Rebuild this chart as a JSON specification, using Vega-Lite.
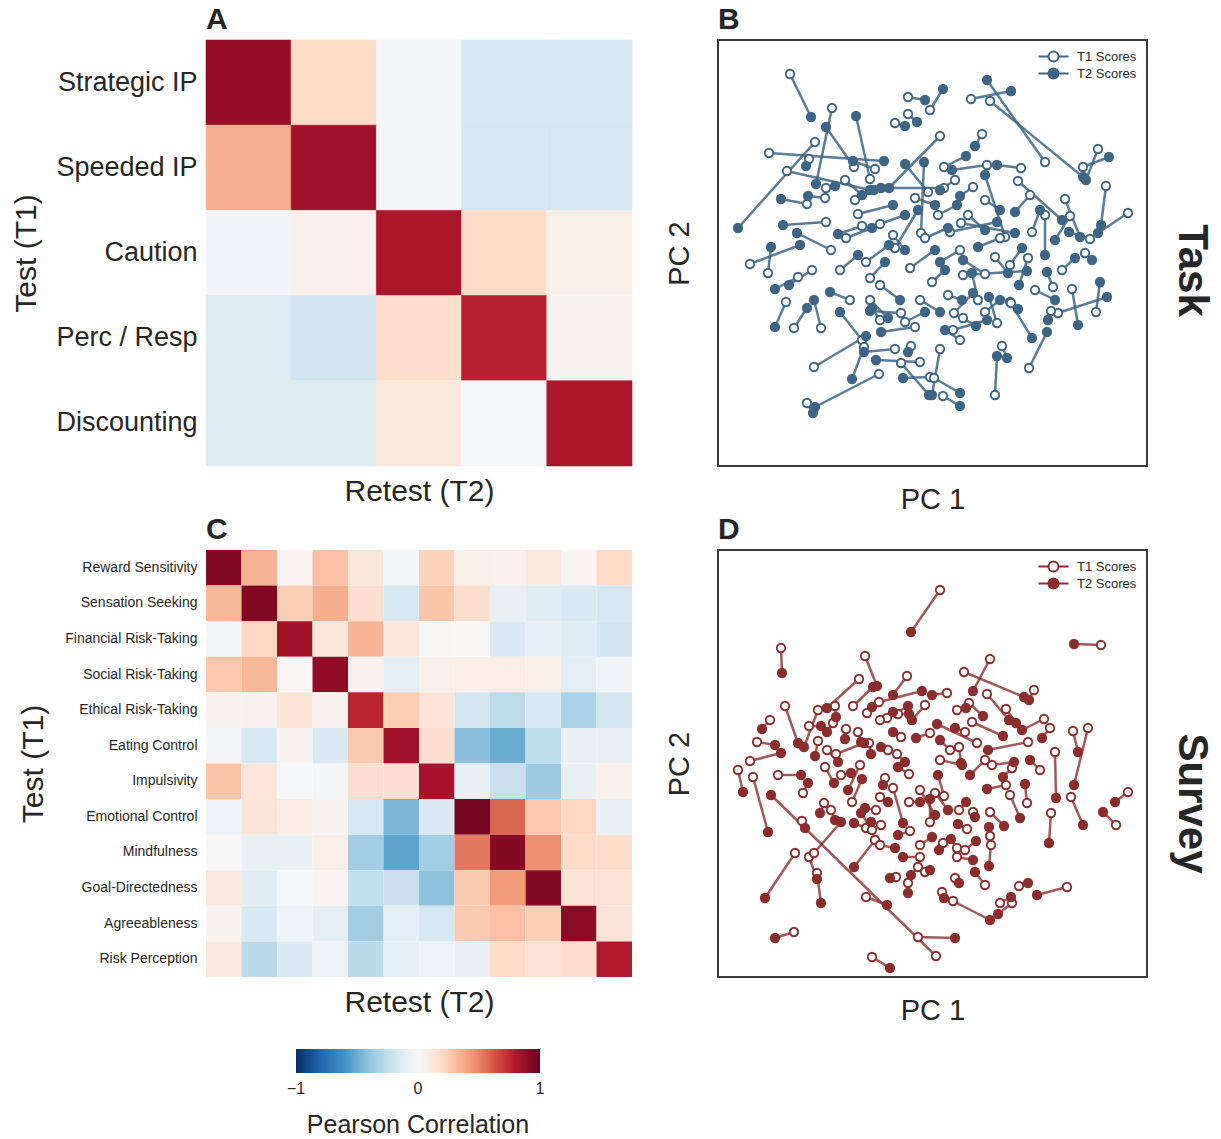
{
  "$schema": "https://vega.github.io/schema/vega-lite/v6.json",
  "autosize": {"type": "pad"},
  "padding": {"left": 11, "top": 4, "right": 5, "bottom": 5},
  "background": "white",
  "config": {
    "font": "Liberation Sans",
    "view": {"stroke": null},
    "axis": {"domain": false, "ticks": false, "grid": false, "titleFontWeight": "normal", "titleColor": "#262626", "labelColor": "#262626"},
    "title": {"anchor": "start", "frame": "group", "fontSize": 30, "fontWeight": "bold", "offset": 5, "color": "#262626"},
    "legend": {"labelColor": "#262626", "titleColor": "#262626"}
  },
  "datasets": {
    "taskCorr": [
      {"test": "Strategic IP", "Strategic IP": 0.88, "Speeded IP": 0.2, "Caution": -0.02, "Perc / Resp": -0.17, "Discounting": -0.17},
      {"test": "Speeded IP", "Strategic IP": 0.36, "Speeded IP": 0.85, "Caution": -0.02, "Perc / Resp": -0.18, "Discounting": -0.18},
      {"test": "Caution", "Strategic IP": -0.03, "Speeded IP": 0.05, "Caution": 0.82, "Perc / Resp": 0.19, "Discounting": 0.06},
      {"test": "Perc / Resp", "Strategic IP": -0.13, "Speeded IP": -0.2, "Caution": 0.18, "Perc / Resp": 0.78, "Discounting": 0.03},
      {"test": "Discounting", "Strategic IP": -0.13, "Speeded IP": -0.13, "Caution": 0.11, "Perc / Resp": -0.01, "Discounting": 0.82}
    ],
    "surveyCorr": [
      {"test": "Reward Sensitivity", "Reward Sensitivity": 0.92, "Sensation Seeking": 0.35, "Financial Risk-Taking": 0.02, "Social Risk-Taking": 0.3, "Ethical Risk-Taking": 0.12, "Eating Control": -0.02, "Impulsivity": 0.23, "Emotional Control": 0.06, "Mindfulness": 0.05, "Goal-Directedness": 0.11, "Agreeableness": 0.02, "Risk Perception": 0.2},
      {"test": "Sensation Seeking", "Reward Sensitivity": 0.33, "Sensation Seeking": 0.93, "Financial Risk-Taking": 0.25, "Social Risk-Taking": 0.37, "Ethical Risk-Taking": 0.17, "Eating Control": -0.17, "Impulsivity": 0.28, "Emotional Control": 0.18, "Mindfulness": -0.08, "Goal-Directedness": -0.13, "Agreeableness": -0.16, "Risk Perception": -0.18},
      {"test": "Financial Risk-Taking", "Reward Sensitivity": -0.02, "Sensation Seeking": 0.21, "Financial Risk-Taking": 0.85, "Social Risk-Taking": 0.13, "Ethical Risk-Taking": 0.34, "Eating Control": 0.13, "Impulsivity": 0.01, "Emotional Control": 0.01, "Mindfulness": -0.15, "Goal-Directedness": -0.1, "Agreeableness": -0.12, "Risk Perception": -0.2},
      {"test": "Social Risk-Taking", "Reward Sensitivity": 0.27, "Sensation Seeking": 0.33, "Financial Risk-Taking": 0.01, "Social Risk-Taking": 0.89, "Ethical Risk-Taking": 0.04, "Eating Control": -0.1, "Impulsivity": 0.05, "Emotional Control": 0.07, "Mindfulness": 0.07, "Goal-Directedness": 0.06, "Agreeableness": -0.1, "Risk Perception": -0.04},
      {"test": "Ethical Risk-Taking", "Reward Sensitivity": 0.04, "Sensation Seeking": 0.04, "Financial Risk-Taking": 0.14, "Social Risk-Taking": 0.04, "Ethical Risk-Taking": 0.76, "Eating Control": 0.25, "Impulsivity": 0.14, "Emotional Control": -0.19, "Mindfulness": -0.26, "Goal-Directedness": -0.16, "Agreeableness": -0.32, "Risk Perception": -0.19},
      {"test": "Eating Control", "Reward Sensitivity": -0.02, "Sensation Seeking": -0.17, "Financial Risk-Taking": 0.03, "Social Risk-Taking": -0.15, "Ethical Risk-Taking": 0.26, "Eating Control": 0.85, "Impulsivity": 0.18, "Emotional Control": -0.42, "Mindfulness": -0.5, "Goal-Directedness": -0.25, "Agreeableness": -0.08, "Risk Perception": -0.08},
      {"test": "Impulsivity", "Reward Sensitivity": 0.28, "Sensation Seeking": 0.13, "Financial Risk-Taking": -0.01, "Social Risk-Taking": -0.02, "Ethical Risk-Taking": 0.17, "Eating Control": 0.17, "Impulsivity": 0.83, "Emotional Control": -0.08, "Mindfulness": -0.23, "Goal-Directedness": -0.37, "Agreeableness": -0.08, "Risk Perception": 0.05},
      {"test": "Emotional Control", "Reward Sensitivity": -0.06, "Sensation Seeking": 0.14, "Financial Risk-Taking": 0.08, "Social Risk-Taking": 0.03, "Ethical Risk-Taking": -0.17, "Eating Control": -0.46, "Impulsivity": -0.15, "Emotional Control": 0.96, "Mindfulness": 0.58, "Goal-Directedness": 0.27, "Agreeableness": 0.21, "Risk Perception": -0.08},
      {"test": "Mindfulness", "Reward Sensitivity": 0.0, "Sensation Seeking": -0.08, "Financial Risk-Taking": -0.08, "Social Risk-Taking": 0.06, "Ethical Risk-Taking": -0.35, "Eating Control": -0.53, "Impulsivity": -0.35, "Emotional Control": 0.53, "Mindfulness": 0.92, "Goal-Directedness": 0.46, "Agreeableness": 0.19, "Risk Perception": 0.19},
      {"test": "Goal-Directedness", "Reward Sensitivity": 0.1, "Sensation Seeking": -0.12, "Financial Risk-Taking": -0.01, "Social Risk-Taking": 0.02, "Ethical Risk-Taking": -0.24, "Eating Control": -0.23, "Impulsivity": -0.41, "Emotional Control": 0.26, "Mindfulness": 0.43, "Goal-Directedness": 0.92, "Agreeableness": 0.16, "Risk Perception": 0.16},
      {"test": "Agreeableness", "Reward Sensitivity": 0.03, "Sensation Seeking": -0.16, "Financial Risk-Taking": -0.04, "Social Risk-Taking": -0.1, "Ethical Risk-Taking": -0.35, "Eating Control": -0.1, "Impulsivity": -0.18, "Emotional Control": 0.26, "Mindfulness": 0.3, "Goal-Directedness": 0.25, "Agreeableness": 0.91, "Risk Perception": 0.14},
      {"test": "Risk Perception", "Reward Sensitivity": 0.1, "Sensation Seeking": -0.27, "Financial Risk-Taking": -0.15, "Social Risk-Taking": -0.06, "Ethical Risk-Taking": -0.27, "Eating Control": -0.1, "Impulsivity": -0.06, "Emotional Control": -0.08, "Mindfulness": 0.2, "Goal-Directedness": 0.16, "Agreeableness": 0.18, "Risk Perception": 0.8}
    ],
    "taskPCA": [
      {"x1": -1.42, "y1": 1.79, "x2": -1.21, "y2": 1.36},
      {"x1": -1.0, "y1": 1.45, "x2": -1.16, "y2": 0.69},
      {"x1": -1.63, "y1": 1.0, "x2": -0.48, "y2": 0.92},
      {"x1": -0.24, "y1": 1.56, "x2": -0.07, "y2": 1.53},
      {"x1": 0.39, "y1": 1.54, "x2": 0.79, "y2": 1.62},
      {"x1": -0.02, "y1": 1.43, "x2": 0.11, "y2": 1.64},
      {"x1": 1.13, "y1": 0.91, "x2": 0.55, "y2": 1.73},
      {"x1": 0.58, "y1": 1.52, "x2": 1.51, "y2": 0.76},
      {"x1": 1.66, "y1": 1.04, "x2": 1.54, "y2": 0.73},
      {"x1": 1.51, "y1": 0.86, "x2": 1.77, "y2": 0.96},
      {"x1": 1.74, "y1": 0.67, "x2": 1.69, "y2": 0.28},
      {"x1": 1.96, "y1": 0.4, "x2": 1.66, "y2": 0.2},
      {"x1": 1.33, "y1": 0.54, "x2": 1.48, "y2": 0.16},
      {"x1": 1.13, "y1": 0.38, "x2": 1.13, "y2": -0.02},
      {"x1": -1.17, "y1": 1.11, "x2": -1.94, "y2": 0.25},
      {"x1": -1.45, "y1": 0.82, "x2": -0.62, "y2": 0.63},
      {"x1": -0.24, "y1": 1.39, "x2": -0.15, "y2": 1.31},
      {"x1": -0.37, "y1": 1.3, "x2": -0.27, "y2": 1.27},
      {"x1": -0.78, "y1": 0.86, "x2": -1.06, "y2": 1.26},
      {"x1": -0.57, "y1": 0.84, "x2": -0.79, "y2": 0.92},
      {"x1": -0.62, "y1": 0.74, "x2": -0.76, "y2": 1.37},
      {"x1": -1.23, "y1": 0.94, "x2": -1.26, "y2": 0.87},
      {"x1": -1.25, "y1": 0.49, "x2": -1.51, "y2": 0.54},
      {"x1": -1.06, "y1": 0.65, "x2": -0.97, "y2": 0.67},
      {"x1": -1.07, "y1": 0.55, "x2": -1.24, "y2": 0.57},
      {"x1": -0.77, "y1": 0.53, "x2": -0.58, "y2": 0.63},
      {"x1": -1.06, "y1": 0.31, "x2": -1.49, "y2": 0.28},
      {"x1": -1.01, "y1": 0.03, "x2": -1.35, "y2": 0.2},
      {"x1": -0.04, "y1": 0.61, "x2": -0.27, "y2": 0.89},
      {"x1": -0.11, "y1": 0.2, "x2": -0.08, "y2": 0.91},
      {"x1": 0.08, "y1": 1.17, "x2": -0.43, "y2": 0.65},
      {"x1": 0.5, "y1": 1.19, "x2": 0.43, "y2": 1.07},
      {"x1": 0.12, "y1": 0.86, "x2": 0.34, "y2": 0.97},
      {"x1": 0.55, "y1": 0.88, "x2": 0.2, "y2": 0.83},
      {"x1": 0.89, "y1": 0.85, "x2": 0.65, "y2": 0.88},
      {"x1": 0.86, "y1": 0.72, "x2": 1.3, "y2": 0.33},
      {"x1": 0.41, "y1": 0.66, "x2": 0.28, "y2": 0.57},
      {"x1": 0.12, "y1": 0.65, "x2": -0.51, "y2": 0.65},
      {"x1": 0.73, "y1": 0.16, "x2": 0.53, "y2": 0.78},
      {"x1": 1.58, "y1": 0.14, "x2": 1.37, "y2": 0.21},
      {"x1": 0.29, "y1": 0.3, "x2": 0.83, "y2": 0.2},
      {"x1": 0.18, "y1": 0.21, "x2": 0.65, "y2": 0.31},
      {"x1": -0.7, "y1": 0.27, "x2": -0.94, "y2": 0.19},
      {"x1": -1.82, "y1": -0.11, "x2": -1.32, "y2": 0.08},
      {"x1": -1.64, "y1": -0.2, "x2": -1.61, "y2": 0.06},
      {"x1": -1.46, "y1": -0.49, "x2": -1.57, "y2": -0.74},
      {"x1": -1.34, "y1": -0.24, "x2": -1.57, "y2": -0.36},
      {"x1": -1.2, "y1": -0.17, "x2": -1.43, "y2": -0.32},
      {"x1": -1.11, "y1": -0.75, "x2": -1.18, "y2": -0.47},
      {"x1": -1.38, "y1": -0.75, "x2": -1.25, "y2": -0.55},
      {"x1": -0.7, "y1": -0.87, "x2": -0.92, "y2": -0.59},
      {"x1": -1.18, "y1": -1.14, "x2": -0.66, "y2": -0.83},
      {"x1": -0.53, "y1": -1.21, "x2": -1.17, "y2": -1.54},
      {"x1": -1.25, "y1": -1.5, "x2": -1.19, "y2": -1.6},
      {"x1": -0.68, "y1": -0.94, "x2": -0.8, "y2": -1.26},
      {"x1": -0.31, "y1": -0.6, "x2": -0.62, "y2": -0.58},
      {"x1": -0.17, "y1": -0.74, "x2": -0.51, "y2": -0.79},
      {"x1": -0.12, "y1": -1.09, "x2": -0.56, "y2": -1.07},
      {"x1": -0.02, "y1": -1.24, "x2": -0.29, "y2": -1.25},
      {"x1": -0.31, "y1": -1.1, "x2": -0.03, "y2": -1.42},
      {"x1": -0.21, "y1": -0.93, "x2": -0.24, "y2": -0.99},
      {"x1": -0.37, "y1": -0.96, "x2": -0.68, "y2": -0.99},
      {"x1": 1.64, "y1": -0.59, "x2": 1.68, "y2": -0.29},
      {"x1": 1.26, "y1": -0.6, "x2": 1.75, "y2": -0.44},
      {"x1": 1.4, "y1": -0.36, "x2": 1.46, "y2": -0.72},
      {"x1": 1.53, "y1": 0.0, "x2": 1.6, "y2": -0.07},
      {"x1": 0.97, "y1": -1.15, "x2": 1.15, "y2": -0.79},
      {"x1": 0.63, "y1": -1.42, "x2": 0.65, "y2": -1.03},
      {"x1": 0.7, "y1": -0.93, "x2": 0.75, "y2": -1.05},
      {"x1": 0.78, "y1": -0.49, "x2": 1.0, "y2": -0.85},
      {"x1": 0.11, "y1": -1.43, "x2": 0.28, "y2": -1.53},
      {"x1": 0.02, "y1": -1.25, "x2": 0.28, "y2": -1.4},
      {"x1": 0.08, "y1": -0.96, "x2": 0.0, "y2": -1.42},
      {"x1": 1.21, "y1": -0.34, "x2": 1.15, "y2": -0.19},
      {"x1": 1.19, "y1": -0.58, "x2": 1.16, "y2": -0.67},
      {"x1": 0.79, "y1": -0.5, "x2": 0.86, "y2": -0.56},
      {"x1": 0.96, "y1": -0.05, "x2": 0.87, "y2": -0.32},
      {"x1": 0.63, "y1": -0.04, "x2": 0.76, "y2": -0.2},
      {"x1": 0.31, "y1": -0.22, "x2": 0.95, "y2": -0.18},
      {"x1": 0.53, "y1": -0.21, "x2": 0.31, "y2": -0.07},
      {"x1": 0.46, "y1": -0.47, "x2": 0.4, "y2": -0.2},
      {"x1": 0.22, "y1": -0.6, "x2": 0.41, "y2": -0.4},
      {"x1": 0.65, "y1": -0.7, "x2": 0.57, "y2": -0.44},
      {"x1": 0.31, "y1": -0.65, "x2": 0.44, "y2": -0.73},
      {"x1": 0.21, "y1": -0.77, "x2": 0.55, "y2": -0.67},
      {"x1": -0.74, "y1": 0.39, "x2": -0.39, "y2": 0.48},
      {"x1": -0.52, "y1": 0.29, "x2": -0.27, "y2": 0.38},
      {"x1": -0.86, "y1": 0.15, "x2": -0.6, "y2": 0.25},
      {"x1": -0.37, "y1": 0.05, "x2": -0.14, "y2": 0.43},
      {"x1": -0.66, "y1": -0.09, "x2": -0.43, "y2": 0.08},
      {"x1": -0.92, "y1": -0.17, "x2": -0.74, "y2": -0.02},
      {"x1": -0.22, "y1": -0.15, "x2": 0.03, "y2": 0.03},
      {"x1": -0.52, "y1": -0.32, "x2": -0.32, "y2": -0.47},
      {"x1": 0.06, "y1": 0.38, "x2": 0.25, "y2": 0.48},
      {"x1": 0.0, "y1": -0.29, "x2": 0.13, "y2": -0.17},
      {"x1": 1.0, "y1": 0.21, "x2": 1.08, "y2": 0.43},
      {"x1": 1.38, "y1": 0.37, "x2": 1.23, "y2": 0.13},
      {"x1": 0.28, "y1": 0.03, "x2": 0.08, "y2": -0.09},
      {"x1": 0.53, "y1": 0.53, "x2": 0.68, "y2": 0.43},
      {"x1": 0.98, "y1": 0.58, "x2": 0.83, "y2": 0.41},
      {"x1": -0.62, "y1": -0.47, "x2": -0.44, "y2": -0.65},
      {"x1": 0.28, "y1": -0.87, "x2": 0.13, "y2": -0.77},
      {"x1": -0.82, "y1": -0.47, "x2": -1.02, "y2": -0.39},
      {"x1": -0.12, "y1": -0.47, "x2": 0.08, "y2": -0.59},
      {"x1": -0.39, "y1": 0.18, "x2": -0.27, "y2": 0.03},
      {"x1": -0.17, "y1": 0.55, "x2": 0.03, "y2": 0.48},
      {"x1": 0.36, "y1": 0.38, "x2": 0.53, "y2": 0.23},
      {"x1": 0.68, "y1": 0.15, "x2": 0.46, "y2": 0.06},
      {"x1": -0.07, "y1": 0.15, "x2": 0.16, "y2": 0.25},
      {"x1": -0.62, "y1": -0.25, "x2": -0.47, "y2": -0.09},
      {"x1": 0.16, "y1": -0.42, "x2": 0.3, "y2": -0.47},
      {"x1": -0.27, "y1": -0.69, "x2": -0.07, "y2": -0.59},
      {"x1": 0.53, "y1": -0.59, "x2": 0.68, "y2": -0.47},
      {"x1": 1.03, "y1": -0.37, "x2": 1.23, "y2": -0.47},
      {"x1": 1.3, "y1": -0.17, "x2": 1.43, "y2": -0.05},
      {"x1": -0.87, "y1": 0.73, "x2": -0.7, "y2": 0.58},
      {"x1": 0.23, "y1": 0.73, "x2": 0.08, "y2": 0.63},
      {"x1": 0.78, "y1": -0.12, "x2": 0.9, "y2": 0.05},
      {"x1": -0.52, "y1": -0.67, "x2": -0.6, "y2": -0.55}
    ],
    "surveyPCA": [
      {"x1": 0.08, "y1": 1.73, "x2": -0.21, "y2": 1.31},
      {"x1": 1.69, "y1": 1.18, "x2": 1.42, "y2": 1.19},
      {"x1": -1.51, "y1": 1.15, "x2": -1.5, "y2": 0.9},
      {"x1": -0.67, "y1": 1.07, "x2": -0.55, "y2": 0.77},
      {"x1": -0.73, "y1": 0.84, "x2": -1.05, "y2": 0.55},
      {"x1": -0.25, "y1": 0.87, "x2": -0.39, "y2": 0.68},
      {"x1": -1.47, "y1": 0.57, "x2": -1.34, "y2": 0.2},
      {"x1": -1.62, "y1": 0.43, "x2": -1.7, "y2": 0.34},
      {"x1": -1.75, "y1": 0.21, "x2": -1.57, "y2": 0.18},
      {"x1": -1.82, "y1": 0.02, "x2": -1.51, "y2": 0.1},
      {"x1": -1.23, "y1": 0.37, "x2": -1.11, "y2": 0.37},
      {"x1": -0.97, "y1": 0.57, "x2": -0.96, "y2": 0.46},
      {"x1": -1.14, "y1": 0.53, "x2": -1.28, "y2": 0.16},
      {"x1": -0.79, "y1": 0.57, "x2": -0.59, "y2": 0.76},
      {"x1": -0.99, "y1": 0.4, "x2": -1.05, "y2": 0.31},
      {"x1": -1.14, "y1": 0.22, "x2": -1.17, "y2": 0.07},
      {"x1": -0.86, "y1": 0.34, "x2": -0.87, "y2": 0.24},
      {"x1": -0.74, "y1": 0.31, "x2": -0.71, "y2": 0.21},
      {"x1": -0.65, "y1": 0.5, "x2": -0.6, "y2": 0.56},
      {"x1": -0.53, "y1": 0.61, "x2": -0.1, "y2": 0.72},
      {"x1": -0.34, "y1": 0.49, "x2": -0.23, "y2": 0.49},
      {"x1": -0.45, "y1": 0.45, "x2": -0.24, "y2": 0.57},
      {"x1": -0.31, "y1": 0.26, "x2": -0.39, "y2": 0.31},
      {"x1": -0.02, "y1": 0.3, "x2": -0.16, "y2": 0.25},
      {"x1": -1.05, "y1": 0.13, "x2": -0.94, "y2": 0.01},
      {"x1": -0.96, "y1": 0.09, "x2": -0.68, "y2": 0.2},
      {"x1": -0.44, "y1": 0.13, "x2": -0.51, "y2": 0.16},
      {"x1": -0.35, "y1": 0.09, "x2": -0.27, "y2": 0.01},
      {"x1": -0.63, "y1": 0.2, "x2": -0.61, "y2": 0.09},
      {"x1": 0.58, "y1": 1.04, "x2": 0.41, "y2": 0.72},
      {"x1": 0.32, "y1": 0.91, "x2": 0.92, "y2": 0.66},
      {"x1": 1.02, "y1": 0.73, "x2": 0.97, "y2": 0.63},
      {"x1": 0.55, "y1": 0.69, "x2": 0.77, "y2": 0.43},
      {"x1": 0.15, "y1": 0.7, "x2": 0.0, "y2": 0.68},
      {"x1": 0.25, "y1": 0.53, "x2": 0.34, "y2": 0.55},
      {"x1": 0.37, "y1": 0.6, "x2": 0.51, "y2": 0.47},
      {"x1": 0.33, "y1": 0.31, "x2": 0.23, "y2": 0.35},
      {"x1": 0.4, "y1": 0.41, "x2": 0.71, "y2": 0.27},
      {"x1": 0.74, "y1": 0.54, "x2": 0.84, "y2": 0.4},
      {"x1": 1.12, "y1": 0.44, "x2": 0.9, "y2": 0.33},
      {"x1": 1.18, "y1": 0.35, "x2": 1.1, "y2": 0.25},
      {"x1": 0.96, "y1": 0.21, "x2": 0.56, "y2": 0.13},
      {"x1": 1.41, "y1": 0.32, "x2": 1.46, "y2": 0.11},
      {"x1": 1.56, "y1": 0.35, "x2": 1.42, "y2": -0.22},
      {"x1": 1.23, "y1": 0.11, "x2": 1.24, "y2": -0.35},
      {"x1": 0.45, "y1": 0.2, "x2": 0.05, "y2": 0.39},
      {"x1": 0.27, "y1": 0.16, "x2": 0.29, "y2": 0.0},
      {"x1": -1.94, "y1": -0.07, "x2": -1.89, "y2": -0.29},
      {"x1": -1.79, "y1": -0.14, "x2": -1.64, "y2": -0.69},
      {"x1": 0.04, "y1": -1.93, "x2": -1.61, "y2": -0.32},
      {"x1": -0.14, "y1": -1.74, "x2": 0.23, "y2": -1.75},
      {"x1": -1.54, "y1": -0.12, "x2": -1.31, "y2": -0.12},
      {"x1": -1.07, "y1": -0.04, "x2": -0.98, "y2": -0.2},
      {"x1": -1.29, "y1": -0.3, "x2": -1.24, "y2": -0.2},
      {"x1": -1.08, "y1": -0.4, "x2": -1.12, "y2": -0.5},
      {"x1": -1.01, "y1": -0.47, "x2": -0.97, "y2": -0.57},
      {"x1": -1.3, "y1": -0.58, "x2": -1.27, "y2": -0.65},
      {"x1": -1.37, "y1": -0.9, "x2": -1.67, "y2": -1.35},
      {"x1": -1.15, "y1": -1.1, "x2": -1.11, "y2": -1.4},
      {"x1": -1.23, "y1": -0.94, "x2": -1.15, "y2": -1.16},
      {"x1": -1.18, "y1": -0.9, "x2": -0.91, "y2": -0.59},
      {"x1": -0.8, "y1": -0.39, "x2": -0.7, "y2": -0.16},
      {"x1": -0.91, "y1": -0.12, "x2": -0.81, "y2": -0.1},
      {"x1": -0.66, "y1": -0.65, "x2": -0.78, "y2": -0.6},
      {"x1": -0.56, "y1": -0.47, "x2": -0.67, "y2": -0.45},
      {"x1": -0.57, "y1": -0.77, "x2": -0.78, "y2": -1.04},
      {"x1": -0.51, "y1": -0.62, "x2": -0.61, "y2": -0.59},
      {"x1": -0.6, "y1": -0.67, "x2": -0.71, "y2": -0.5},
      {"x1": -0.22, "y1": -0.68, "x2": -0.34, "y2": -0.72},
      {"x1": -0.12, "y1": -0.94, "x2": -0.29, "y2": -0.94},
      {"x1": -0.14, "y1": -1.04, "x2": -0.21, "y2": -1.12},
      {"x1": -0.36, "y1": -1.14, "x2": -0.42, "y2": -1.15},
      {"x1": -0.24, "y1": -1.2, "x2": -0.24, "y2": -1.3},
      {"x1": -0.07, "y1": -1.09, "x2": -0.02, "y2": -1.07},
      {"x1": -0.66, "y1": -1.34, "x2": -0.45, "y2": -1.42},
      {"x1": -1.38, "y1": -1.69, "x2": -1.57, "y2": -1.75},
      {"x1": -0.6, "y1": -1.94, "x2": -0.42, "y2": -2.05},
      {"x1": -0.47, "y1": -0.15, "x2": -0.49, "y2": -0.22},
      {"x1": -0.39, "y1": -0.25, "x2": -0.29, "y2": -0.6},
      {"x1": -0.52, "y1": -0.34, "x2": -0.44, "y2": -0.39},
      {"x1": -0.23, "y1": -0.11, "x2": -0.34, "y2": -0.04},
      {"x1": -0.23, "y1": -0.39, "x2": -0.12, "y2": -0.39},
      {"x1": -0.02, "y1": -0.59, "x2": -0.02, "y2": -0.36},
      {"x1": 0.95, "y1": -0.4, "x2": 0.93, "y2": -0.21},
      {"x1": 1.19, "y1": -0.5, "x2": 1.17, "y2": -0.8},
      {"x1": 1.39, "y1": -0.34, "x2": 1.51, "y2": -0.62},
      {"x1": 1.84, "y1": -0.62, "x2": 1.71, "y2": -0.49},
      {"x1": 1.96, "y1": -0.29, "x2": 1.83, "y2": -0.39},
      {"x1": 1.35, "y1": -1.24, "x2": 1.05, "y2": -1.32},
      {"x1": 0.87, "y1": -1.23, "x2": 0.96, "y2": -1.2},
      {"x1": 0.21, "y1": -1.38, "x2": 0.58, "y2": -1.57},
      {"x1": 0.8, "y1": -1.4, "x2": 0.66, "y2": -1.51},
      {"x1": 0.23, "y1": -1.15, "x2": 0.27, "y2": -1.2},
      {"x1": 0.1, "y1": -1.29, "x2": 0.12, "y2": -1.35},
      {"x1": 0.12, "y1": -0.33, "x2": 0.06, "y2": -0.12},
      {"x1": 0.03, "y1": -0.3, "x2": 0.16, "y2": -0.47},
      {"x1": 0.74, "y1": -0.22, "x2": 0.55, "y2": -0.26},
      {"x1": 0.27, "y1": -0.47, "x2": 0.34, "y2": -0.39},
      {"x1": 0.35, "y1": -0.66, "x2": 0.26, "y2": -0.61},
      {"x1": 0.41, "y1": -0.49, "x2": 0.43, "y2": -0.54},
      {"x1": 0.58, "y1": -0.73, "x2": 0.57, "y2": -0.64},
      {"x1": 0.59, "y1": -0.82, "x2": 0.57, "y2": -1.03},
      {"x1": 0.11, "y1": -0.8, "x2": 0.07, "y2": -0.87},
      {"x1": 0.25, "y1": -0.85, "x2": 0.19, "y2": -0.76},
      {"x1": 0.25, "y1": -0.94, "x2": 0.41, "y2": -0.97},
      {"x1": 0.6, "y1": -0.02, "x2": 0.82, "y2": 0.01},
      {"x1": 0.68, "y1": -1.4, "x2": 0.79, "y2": -1.34},
      {"x1": 0.08, "y1": 0.03, "x2": 0.3, "y2": -0.02},
      {"x1": 0.8, "y1": -0.05, "x2": 0.71, "y2": -0.14},
      {"x1": -0.12, "y1": -0.82, "x2": 0.0, "y2": -0.74},
      {"x1": 0.58, "y1": -0.49, "x2": 0.72, "y2": -0.63},
      {"x1": 0.33, "y1": -0.87, "x2": 0.44, "y2": -0.78},
      {"x1": -0.52, "y1": 0.43, "x2": -0.39, "y2": 0.51},
      {"x1": -0.07, "y1": 0.58, "x2": -0.2, "y2": 0.43},
      {"x1": 0.18, "y1": 0.13, "x2": 0.08, "y2": 0.23},
      {"x1": 0.53, "y1": 0.03, "x2": 0.38, "y2": -0.12},
      {"x1": -0.12, "y1": -0.27, "x2": 0.03, "y2": -0.52},
      {"x1": -0.52, "y1": -0.82, "x2": -0.37, "y2": -0.85},
      {"x1": 0.53, "y1": -1.22, "x2": 0.43, "y2": -1.09},
      {"x1": 0.78, "y1": -0.32, "x2": 0.88, "y2": -0.55},
      {"x1": -0.72, "y1": -0.02, "x2": -0.84, "y2": -0.27},
      {"x1": 1.08, "y1": -0.07, "x2": 0.98, "y2": 0.03}
    ]
  },
  "columns": 2,
  "spacing": {"row": 84, "column": 86},
  "bounds": "flush",
  "resolve": {
    "scale": {"x": "independent", "y": "independent", "color": "independent", "fill": "independent", "stroke": "independent"},
    "legend": {"color": "independent", "fill": "independent", "stroke": "independent"}
  },
  "concat": [
    {
      "title": {"text": "A"},
      "width": 426,
      "height": 426,
      "data": {"name": "taskCorr"},
      "transform": [{"fold": ["Strategic IP", "Speeded IP", "Caution", "Perc / Resp", "Discounting"], "as": ["retest", "r"]}],
      "mark": {"type": "rect", "strokeWidth": 0.6},
      "encoding": {
        "x": {"field": "retest", "type": "nominal", "sort": ["Strategic IP", "Speeded IP", "Caution", "Perc / Resp", "Discounting"],
              "axis": {"title": "Retest (T2)", "labels": false, "titleFontSize": 30, "titlePadding": 10}},
        "y": {"field": "test", "type": "nominal", "sort": ["Strategic IP", "Speeded IP", "Caution", "Perc / Resp", "Discounting"],
              "axis": {"title": "Test (T1)", "labelFontSize": 27, "labelPadding": 9, "titleFontSize": 30, "titlePadding": 14}},
        "color": {"field": "r", "type": "quantitative",
                  "scale": {"domain": [-1, 1], "range": ["#053061", "#2166ac", "#4393c3", "#92c5de", "#d1e5f0", "#f7f7f7", "#fddbc7", "#f4a582", "#d6604d", "#b2182b", "#67001f"], "interpolate": "rgb"},
                  "legend": null},
        "stroke": {"field": "r", "type": "quantitative",
                   "scale": {"domain": [-1, 1], "range": ["#053061", "#2166ac", "#4393c3", "#92c5de", "#d1e5f0", "#f7f7f7", "#fddbc7", "#f4a582", "#d6604d", "#b2182b", "#67001f"], "interpolate": "rgb"},
                   "legend": null}
      }
    },
    {
      "title": {"text": "B"},
      "width": 429,
      "height": 426,
      "view": {"stroke": "#3a3a3a", "strokeWidth": 2},
      "data": {"name": "taskPCA"},
      "layer": [
        {
          "mark": {"type": "rule", "stroke": "#3d6585", "strokeWidth": 2.5, "opacity": 0.85},
          "encoding": {
            "x": {"field": "x1", "type": "quantitative", "scale": {"domain": [-2.14, 2.15], "nice": false, "zero": false},
                  "axis": {"title": "PC 1", "labels": false, "titleFontSize": 29, "titlePadding": 19}},
            "y": {"field": "y1", "type": "quantitative", "scale": {"domain": [-2.13, 2.13], "nice": false, "zero": false},
                  "axis": {"title": "PC 2", "labels": false, "titleFontSize": 29, "titlePadding": 24}},
            "x2": {"field": "x2"},
            "y2": {"field": "y2"}
          }
        },
        {
          "mark": {"type": "point", "filled": true, "stroke": "#3d6585", "strokeWidth": 1.8, "size": 72, "opacity": 1},
          "encoding": {
            "x": {"field": "x1", "type": "quantitative", "axis": {"title": "PC 1", "labels": false, "titleFontSize": 29, "titlePadding": 19}},
            "y": {"field": "y1", "type": "quantitative", "axis": null},
            "fill": {"datum": "T1", "type": "nominal", "scale": {"domain": ["T1", "T2"], "range": ["#ffffff", "#3d6585"]},
                     "legend": {"title": null, "orient": "top-right", "offset": 10, "labelExpr": "datum.label + ' Scores'", "labelFontSize": 13,
                                "symbolType": "M-3,0L-1,0M1,0L3,0M1,0A1,1 0 1,1 -1,0A1,1 0 1,1 1,0Z",
                                "symbolSize": 100, "symbolStrokeColor": "#3d6585", "symbolStrokeWidth": 2, "rowPadding": -2, "labelOffset": 17}}
          }
        },
        {
          "mark": {"type": "point", "filled": true, "stroke": "#3d6585", "strokeWidth": 1.8, "size": 72, "opacity": 1},
          "encoding": {
            "x": {"field": "x2", "type": "quantitative", "axis": {"title": "PC 1", "labels": false, "titleFontSize": 29, "titlePadding": 19}},
            "y": {"field": "y2", "type": "quantitative",
                  "axis": {"orient": "right", "title": "Task", "labels": false, "titleFontSize": 42, "titleFontWeight": "bold", "titlePadding": 22, "titleY": 230}},
            "fill": {"datum": "T2", "type": "nominal"}
          }
        }
      ],
      "resolve": {"axis": {"y": "independent"}}
    },
    {
      "title": {"text": "C"},
      "width": 426,
      "height": 427,
      "data": {"name": "surveyCorr"},
      "transform": [{"fold": ["Reward Sensitivity", "Sensation Seeking", "Financial Risk-Taking", "Social Risk-Taking", "Ethical Risk-Taking", "Eating Control", "Impulsivity", "Emotional Control", "Mindfulness", "Goal-Directedness", "Agreeableness", "Risk Perception"], "as": ["retest", "r"]}],
      "mark": {"type": "rect"},
      "encoding": {
        "x": {"field": "retest", "type": "nominal", "sort": ["Reward Sensitivity", "Sensation Seeking", "Financial Risk-Taking", "Social Risk-Taking", "Ethical Risk-Taking", "Eating Control", "Impulsivity", "Emotional Control", "Mindfulness", "Goal-Directedness", "Agreeableness", "Risk Perception"],
              "axis": {"title": "Retest (T2)", "labels": false, "titleFontSize": 30, "titlePadding": 10}},
        "y": {"field": "test", "type": "nominal", "sort": ["Reward Sensitivity", "Sensation Seeking", "Financial Risk-Taking", "Social Risk-Taking", "Ethical Risk-Taking", "Eating Control", "Impulsivity", "Emotional Control", "Mindfulness", "Goal-Directedness", "Agreeableness", "Risk Perception"],
              "axis": {"title": "Test (T1)", "labelFontSize": 14, "labelPadding": 9, "titleFontSize": 30, "titlePadding": 16}},
        "color": {"field": "r", "type": "quantitative",
                  "scale": {"domain": [-1, 1], "range": ["#053061", "#2166ac", "#4393c3", "#92c5de", "#d1e5f0", "#f7f7f7", "#fddbc7", "#f4a582", "#d6604d", "#b2182b", "#67001f"], "interpolate": "rgb"},
                  "legend": {"type": "gradient", "title": "Pearson Correlation", "orient": "none", "legendX": 90, "legendY": 499, "direction": "horizontal",
                             "gradientLength": 244, "gradientThickness": 24, "gradientStrokeWidth": 0, "values": [-1, 0, 1],
                             "labelExpr": "datum.value < 0 ? '\u2212' + format(-datum.value, 'd') : format(datum.value, 'd')",
                             "labelFontSize": 16, "labelAlign": "center", "labelOffset": 8,
                             "encode": {"labels": {"update": {"align": {"value": "center"}}}},
                             "titleOrient": "bottom", "titleFontSize": 25, "titleFontWeight": "normal", "titleAnchor": "middle", "titlePadding": 16, "titleLimit": 500}}
      }
    },
    {
      "title": {"text": "D"},
      "width": 429,
      "height": 427,
      "view": {"stroke": "#3a3a3a", "strokeWidth": 2},
      "data": {"name": "surveyPCA"},
      "layer": [
        {
          "mark": {"type": "rule", "stroke": "#8c2d2d", "strokeWidth": 2.5, "opacity": 0.8},
          "encoding": {
            "x": {"field": "x1", "type": "quantitative", "scale": {"domain": [-2.14, 2.15], "nice": false, "zero": false},
                  "axis": {"title": "PC 1", "labels": false, "titleFontSize": 29, "titlePadding": 19}},
            "y": {"field": "y1", "type": "quantitative", "scale": {"domain": [-2.14, 2.13], "nice": false, "zero": false},
                  "axis": {"title": "PC 2", "labels": false, "titleFontSize": 29, "titlePadding": 24}},
            "x2": {"field": "x2"},
            "y2": {"field": "y2"}
          }
        },
        {
          "mark": {"type": "point", "filled": true, "stroke": "#8c2d2d", "strokeWidth": 1.8, "size": 72, "opacity": 1},
          "encoding": {
            "x": {"field": "x1", "type": "quantitative", "axis": {"title": "PC 1", "labels": false, "titleFontSize": 29, "titlePadding": 19}},
            "y": {"field": "y1", "type": "quantitative", "axis": null},
            "fill": {"datum": "T1", "type": "nominal", "scale": {"domain": ["T1", "T2"], "range": ["#ffffff", "#8c2d2d"]},
                     "legend": {"title": null, "orient": "top-right", "offset": 10, "labelExpr": "datum.label + ' Scores'", "labelFontSize": 13,
                                "symbolType": "M-3,0L-1,0M1,0L3,0M1,0A1,1 0 1,1 -1,0A1,1 0 1,1 1,0Z",
                                "symbolSize": 100, "symbolStrokeColor": "#8c2d2d", "symbolStrokeWidth": 2, "rowPadding": -2, "labelOffset": 17}}
          }
        },
        {
          "mark": {"type": "point", "filled": true, "stroke": "#8c2d2d", "strokeWidth": 1.8, "size": 72, "opacity": 1},
          "encoding": {
            "x": {"field": "x2", "type": "quantitative", "axis": {"title": "PC 1", "labels": false, "titleFontSize": 29, "titlePadding": 19}},
            "y": {"field": "y2", "type": "quantitative",
                  "axis": {"orient": "right", "title": "Survey", "labels": false, "titleFontSize": 42, "titleFontWeight": "bold", "titlePadding": 22, "titleY": 253}},
            "fill": {"datum": "T2", "type": "nominal"}
          }
        }
      ],
      "resolve": {"axis": {"y": "independent"}}
    }
  ]
}
